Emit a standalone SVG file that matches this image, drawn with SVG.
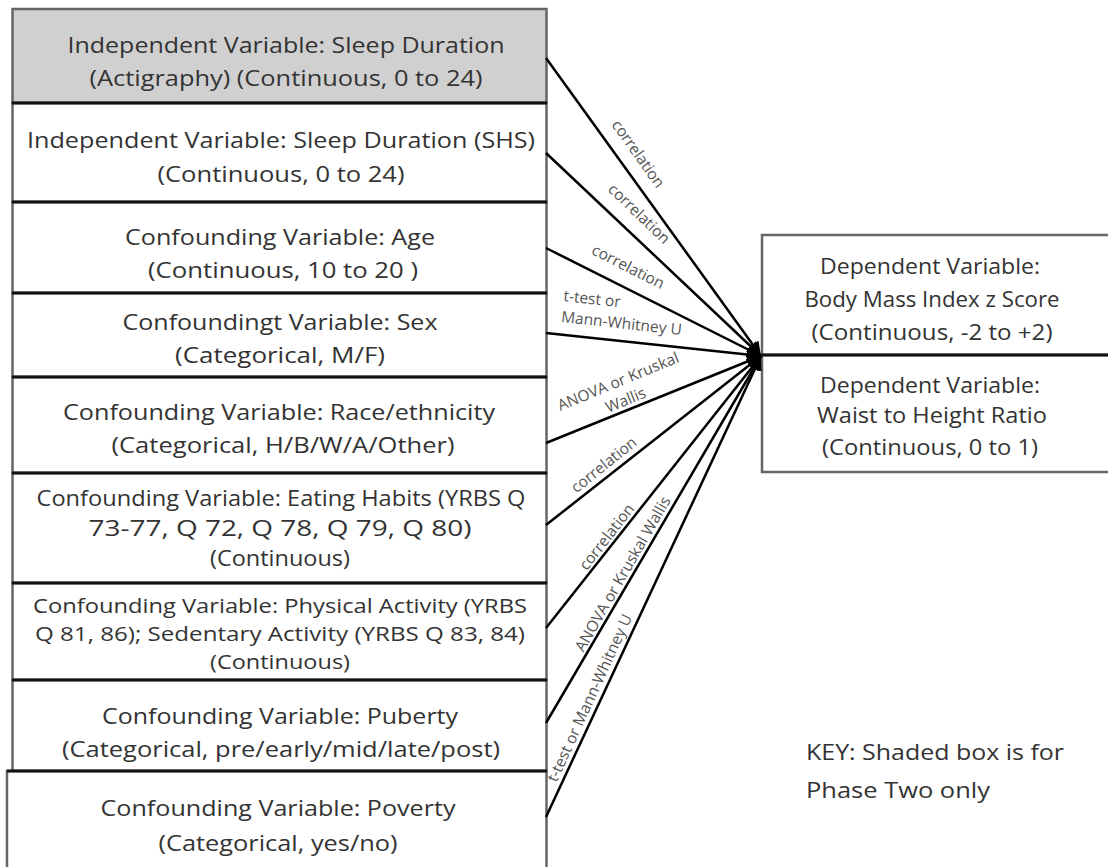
<svg xmlns="http://www.w3.org/2000/svg" width="1108" height="867" viewBox="0 0 1108 867">
<style>
.box{fill:#fff;stroke:#666;stroke-width:2.5}
.shaded{fill:#d0d0d0}
.div{stroke:#111;stroke-width:3}
.t{font-family:"Open Sans","Liberation Sans",sans-serif;font-size:22.5px;fill:#333;text-anchor:middle}
.s{font-size:21px}
.xs{font-size:20px}
.k{font-family:"Open Sans","Liberation Sans",sans-serif;font-size:22.5px;fill:#333}
.c{stroke:#000;stroke-width:2.5;fill:none;marker-end:url(#ah)}
.l{font-family:"Open Sans","Liberation Sans",sans-serif;font-size:15.5px;fill:#555;text-anchor:middle}
.ls{font-family:"Open Sans","Liberation Sans",sans-serif;font-size:15.5px;fill:#555}
</style>
<defs>
<marker id="ah" markerUnits="userSpaceOnUse" markerWidth="16" markerHeight="14" refX="14" refY="7" orient="auto">
<path d="M0,0 L14,7 L0,14 Z" fill="#000"/>
</marker>
</defs>
<rect width="1108" height="867" fill="#fff"/>

<g id="n1">
<rect class="box shaded" x="12.5" y="9" width="534" height="94"/>
<text class="t" x="286" y="53" textLength="437" lengthAdjust="spacingAndGlyphs">Independent Variable: Sleep Duration</text>
<text class="t" x="286" y="86" textLength="393" lengthAdjust="spacingAndGlyphs">(Actigraphy) (Continuous, 0 to 24)</text>
</g>
<g id="n2">
<rect class="box" x="12.5" y="103" width="534" height="99"/>
<text class="t" x="281" y="148" textLength="508" lengthAdjust="spacingAndGlyphs">Independent Variable: Sleep Duration (SHS)</text>
<text class="t" x="281" y="182" textLength="247" lengthAdjust="spacingAndGlyphs">(Continuous, 0 to 24)</text>
</g>
<g id="n3">
<rect class="box" x="12.5" y="202" width="534" height="91"/>
<text class="t" x="280" y="245" textLength="310" lengthAdjust="spacingAndGlyphs">Confounding Variable: Age</text>
<text class="t" x="283" y="278" textLength="270" lengthAdjust="spacingAndGlyphs">(Continuous, 10 to 20 )</text>
</g>
<g id="n4">
<rect class="box" x="12.5" y="293" width="534" height="84"/>
<text class="t" x="280" y="330" textLength="315" lengthAdjust="spacingAndGlyphs">Confoundingt Variable: Sex</text>
<text class="t" x="280" y="363" textLength="210" lengthAdjust="spacingAndGlyphs">(Categorical, M/F)</text>
</g>
<g id="n5">
<rect class="box" x="12.5" y="377" width="534" height="96"/>
<text class="t" x="279" y="420" textLength="432" lengthAdjust="spacingAndGlyphs">Confounding Variable: Race/ethnicity</text>
<text class="t" x="283" y="453" textLength="343" lengthAdjust="spacingAndGlyphs">(Categorical, H/B/W/A/Other)</text>
</g>
<g id="n6">
<rect class="box" x="12.5" y="473" width="534" height="110"/>
<text class="t s" x="281" y="506" textLength="489" lengthAdjust="spacingAndGlyphs">Confounding Variable: Eating Habits (YRBS Q</text>
<text class="t s" x="280" y="536" textLength="383" lengthAdjust="spacingAndGlyphs">73-77, Q 72, Q 78, Q 79, Q 80)</text>
<text class="t s" x="280" y="566" textLength="140" lengthAdjust="spacingAndGlyphs">(Continuous)</text>
</g>
<g id="n7">
<rect class="box" x="12.5" y="583" width="534" height="97"/>
<text class="t xs" x="280" y="613" textLength="494" lengthAdjust="spacingAndGlyphs">Confounding Variable: Physical Activity (YRBS</text>
<text class="t xs" x="280" y="641" textLength="490" lengthAdjust="spacingAndGlyphs">Q 81, 86); Sedentary Activity (YRBS Q 83, 84)</text>
<text class="t xs" x="280" y="669" textLength="140" lengthAdjust="spacingAndGlyphs">(Continuous)</text>
</g>
<g id="n8">
<rect class="box" x="12.5" y="680" width="534" height="91"/>
<text class="t" x="280" y="724" textLength="356" lengthAdjust="spacingAndGlyphs">Confounding Variable: Puberty</text>
<text class="t" x="281" y="757" textLength="438" lengthAdjust="spacingAndGlyphs">(Categorical, pre/early/mid/late/post)</text>
</g>
<g id="n9">
<rect class="box" x="7" y="771" width="539.5" height="110"/>
<text class="t" x="278" y="816" textLength="355" lengthAdjust="spacingAndGlyphs">Confounding Variable: Poverty</text>
<text class="t" x="278" y="851" textLength="239" lengthAdjust="spacingAndGlyphs">(Categorical, yes/no)</text>
</g>
<g id="dividers">
<line class="div" x1="12" y1="103" x2="547" y2="103"/>
<line class="div" x1="12" y1="202" x2="547" y2="202"/>
<line class="div" x1="12" y1="293" x2="547" y2="293"/>
<line class="div" x1="12" y1="377" x2="547" y2="377"/>
<line class="div" x1="12" y1="473" x2="547" y2="473"/>
<line class="div" x1="12" y1="583" x2="547" y2="583"/>
<line class="div" x1="12" y1="680" x2="547" y2="680"/>
<line class="div" x1="7" y1="771" x2="547" y2="771"/>
</g>

<g id="d1">
<rect class="box" x="762" y="235" width="360" height="120"/>
<text class="t" x="930" y="274" textLength="220" lengthAdjust="spacingAndGlyphs">Dependent Variable:</text>
<text class="t" x="932" y="307" textLength="255" lengthAdjust="spacingAndGlyphs">Body Mass Index z Score</text>
<text class="t" x="932" y="340" textLength="241" lengthAdjust="spacingAndGlyphs">(Continuous, -2 to +2)</text>
</g>
<g id="d2">
<rect class="box" x="762" y="355" width="360" height="117"/>
<text class="t" x="930" y="393" textLength="220" lengthAdjust="spacingAndGlyphs">Dependent Variable:</text>
<text class="t" x="932" y="423" textLength="230" lengthAdjust="spacingAndGlyphs">Waist to Height Ratio</text>
<text class="t" x="930" y="455" textLength="216" lengthAdjust="spacingAndGlyphs">(Continuous, 0 to 1)</text>
</g>
<line class="div" x1="762" y1="355" x2="1108" y2="355"/>

<g id="connectors">
<line class="c" x1="546" y1="58" x2="761" y2="356"/>
<line class="c" x1="546" y1="153" x2="761" y2="356"/>
<line class="c" x1="546" y1="248" x2="761" y2="356"/>
<line class="c" x1="546" y1="333" x2="761" y2="356"/>
<line class="c" x1="546" y1="443" x2="761" y2="356"/>
<line class="c" x1="546" y1="525" x2="761" y2="356"/>
<line class="c" x1="546" y1="628" x2="761" y2="356"/>
<line class="c" x1="546" y1="723" x2="761" y2="356"/>
<line class="c" x1="546" y1="817" x2="761" y2="356"/>
<text class="l" transform="translate(638,154) rotate(54.7)" y="5">correlation</text>
<text class="l" transform="translate(639,214) rotate(43.9)" y="5">correlation</text>
<text class="l" transform="translate(628,267) rotate(27.1)" y="5">correlation</text>
<g transform="translate(563,301) rotate(6.2)">
<text class="ls" x="0" y="0">t-test or</text>
<text class="ls" x="0" y="21">Mann-Whitney U</text>
</g>
<g transform="translate(622,391) rotate(-22.4)">
<text class="l" x="0" y="-5">ANOVA or Kruskal</text>
<text class="l" x="0" y="15">Wallis</text>
</g>
<text class="l" transform="translate(604,465) rotate(-38.7)" y="5">correlation</text>
<text class="l" transform="translate(607,537) rotate(-52.2)" y="5">correlation</text>
<text class="l" transform="translate(623,574) rotate(-60.1)" y="5">ANOVA or Kruskal Wallis</text>
<text class="l" transform="translate(590,698) rotate(-65.4)" y="5">t-test or Mann-Whitney U</text>
</g>

<g id="key">
<text class="k" x="806" y="760" textLength="258" lengthAdjust="spacingAndGlyphs">KEY: Shaded box is for</text>
<text class="k" x="806" y="798" textLength="184" lengthAdjust="spacingAndGlyphs">Phase Two only</text>
</g>
</svg>
